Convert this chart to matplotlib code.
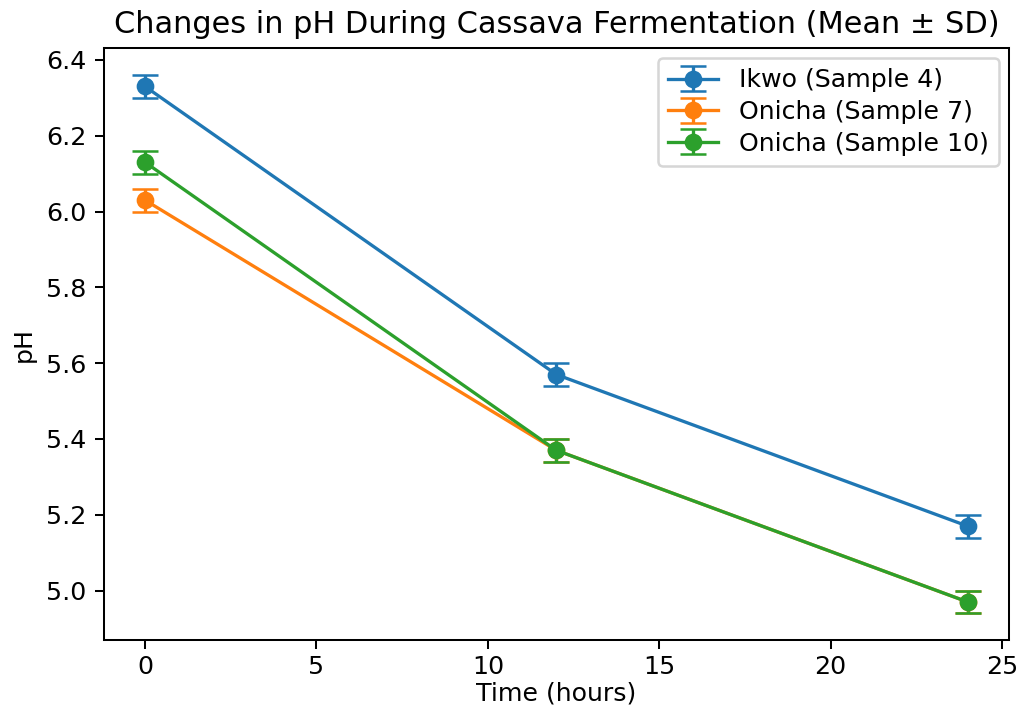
import matplotlib
matplotlib.use('Agg')
import numpy as np
import matplotlib.pyplot as plt

time_h = [0, 12, 24]
ikwo_4 = [6.33, 5.57, 5.17]
onicha_7 = [6.03, 5.37, 4.97]
onicha_10 = [6.13, 5.37, 4.97]
sd_ikwo_4 = [0.03, 0.03, 0.03]
sd_onicha_7 = [0.03, 0.03, 0.03]
sd_onicha_10 = [0.03, 0.03, 0.03]

dpi = 182
fig = plt.figure(figsize=(1019/dpi, 709/dpi), dpi=dpi)
ax = fig.add_axes([0.102, 0.097, 0.888, 0.835])

ax.errorbar(time_h, ikwo_4, yerr=sd_ikwo_4, marker='o', capsize=5, lw=1.3, label='Ikwo (Sample 4)')
ax.errorbar(time_h, onicha_7, yerr=sd_onicha_7, marker='o', capsize=5, lw=1.3, label='Onicha (Sample 7)')
ax.errorbar(time_h, onicha_10, yerr=sd_onicha_10, marker='o', capsize=5, lw=1.3, label='Onicha (Sample 10)')

ax.set_title('Changes in pH During Cassava Fermentation (Mean ± SD)')
ax.set_xlabel('Time (hours)', labelpad=1)
ax.set_ylabel('pH')
ax.tick_params(axis='x', pad=2.5)
ax.legend(labelspacing=0.3, borderaxespad=0.4)

fig.savefig('out.png', dpi=dpi)
